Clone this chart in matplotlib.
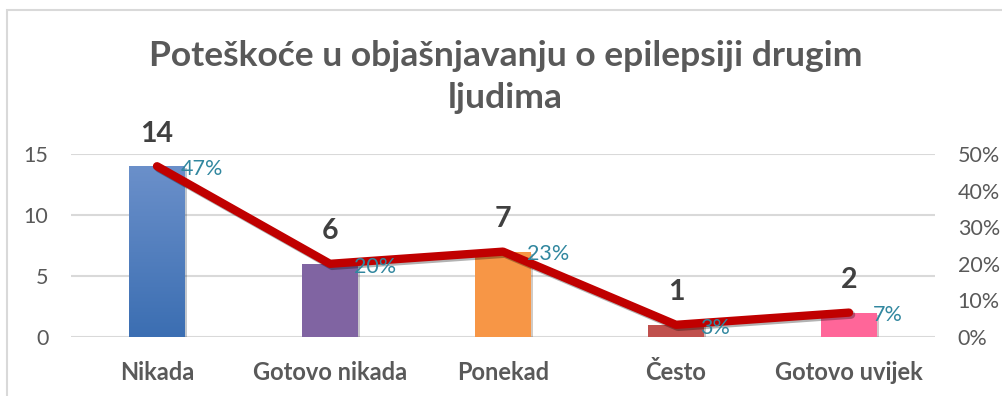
import numpy as np
import matplotlib
matplotlib.use("Agg")
import matplotlib.pyplot as plt
import matplotlib.patheffects as pe
from matplotlib.patches import Rectangle
from matplotlib.ticker import FuncFormatter

# ===============================
# Data
# ===============================
categories = ["Nikada", "Gotovo nikada", "Ponekad", "Često", "Gotovo uvijek"]
counts = [14, 6, 7, 1, 2]
percent_labels = ["47%", "20%", "23%", "3%", "7%"]
total = sum(counts)
shares = [c / total for c in counts]

bar_colors = ["#4A7EC0", "#8064A2", "#F79646", "#C0504D", "#FF6699"]
grey = "#595959"
teal = "#31879F"

plt.rcParams["font.family"] = ["Lato", "DejaVu Sans"]

fig = plt.figure(figsize=(10.03, 3.96), dpi=100)
ax = fig.add_axes([0.0703, 0.149, 0.8624, 0.462])

x = np.arange(len(categories))
bars = ax.bar(x, counts, width=0.32, color=bar_colors, zorder=2,
              path_effects=[pe.SimplePatchShadow(offset=(1.5, -1.5), alpha=0.25), pe.Normal()])

# blue bar gets a light vertical gradient
b0 = bars[0]
grad = np.linspace(0, 1, 256).reshape(-1, 1)
cmap = matplotlib.colors.LinearSegmentedColormap.from_list("blu", ["#3B6EB2", "#6B90CA"])
im = ax.imshow(grad, cmap=cmap, origin="lower", aspect="auto", zorder=2.1,
               extent=[b0.get_x(), b0.get_x() + b0.get_width(), 0, b0.get_height()])
im.set_clip_path(b0)

ax.set_xlim(-0.5, len(categories) - 0.5)
ax.set_ylim(0, 15)
ax.set_yticks([0, 5, 10, 15])
ax.grid(axis="y", color="#D9D9D9", linewidth=1.5, zorder=0)
for s in ax.spines.values():
    s.set_visible(False)
ax.tick_params(axis="y", length=0, pad=16, labelsize=15.5, labelcolor=grey)
ax.tick_params(axis="x", length=0, pad=17, labelsize=17, labelcolor=grey)
ax.set_xticks(x)
ax.set_xticklabels(categories, fontweight="bold")

for xi, c in zip(x, counts):
    ax.annotate(str(c), (xi, c), xytext=(0, 14), textcoords="offset points",
                ha="center", va="bottom", fontsize=20.5, fontweight="bold", color="#404040")

# share line on the secondary axis
ax2 = ax.twinx()
ax2.set_ylim(0, 0.5)
ax2.set_yticks(np.arange(0, 0.51, 0.1))
ax2.yaxis.set_major_formatter(FuncFormatter(lambda v, _: f"{v*100:.0f}%"))
for s in ax2.spines.values():
    s.set_visible(False)
ax2.tick_params(axis="y", length=0, pad=16, labelsize=15.5, labelcolor=grey)
ax2.plot(x, shares, color="#C00000", linewidth=6, solid_capstyle="round",
         solid_joinstyle="round", zorder=3,
         path_effects=[pe.SimpleLineShadow(offset=(1.5, -1.5), alpha=0.3), pe.Normal()])
for xi, s, lab in zip(x, shares, percent_labels):
    ax2.annotate(lab, (xi, s), xytext=(17, -2), textcoords="offset points",
                 ha="left", va="center", fontsize=15.5, color=teal)

fig.text(0.504, 0.805, "Poteškoće u objašnjavanju o epilepsiji drugim\nljudima",
         ha="center", va="center", fontsize=25.5, fontweight="bold", color=grey,
         linespacing=1.38)

fig.patches.append(Rectangle((7 / 1003, -0.1), 1.2, 1 - 10 / 396 + 0.1,
                             transform=fig.transFigure, fill=False,
                             edgecolor="#D9D9D9", linewidth=1.5))

fig.savefig("out.png", dpi=100)
